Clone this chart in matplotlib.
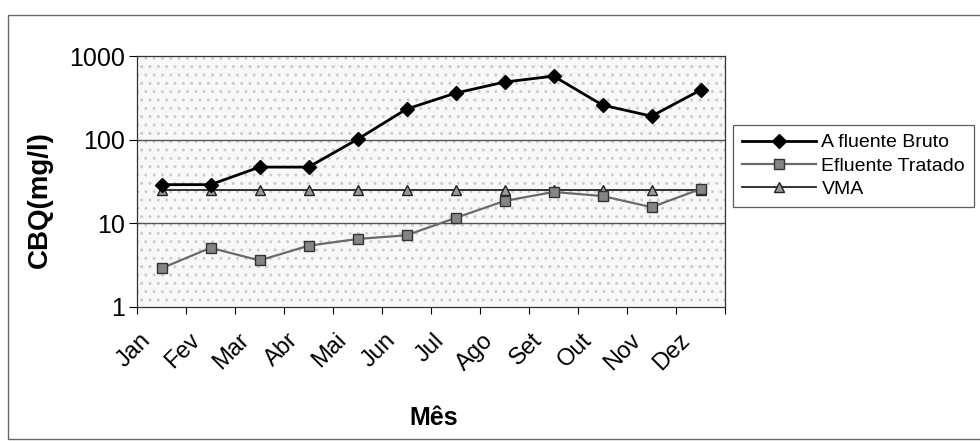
import numpy as np
import matplotlib
matplotlib.use("Agg")
import matplotlib.pyplot as plt
from matplotlib.patches import Rectangle

plt.rcParams["font.family"] = ["Liberation Sans", "DejaVu Sans"]

# dados
meses = ["Jan", "Fev", "Mar", "Abr", "Mai", "Jun", "Jul", "Ago", "Set", "Out", "Nov", "Dez"]
afluente = [29, 29, 47, 47, 101, 232, 360, 488, 575, 259, 191, 391]
efluente = [2.9, 5.1, 3.6, 5.4, 6.5, 7.2, 11.6, 18.5, 23.7, 21.2, 15.6, 25.7]
vma = [25, 25, 25, 25, 25, 25, 25, 25, 25, 25, 25, 25]

fig = plt.figure(figsize=(9.8, 4.41), dpi=100)
ax = fig.add_axes([137 / 980, 1 - 307 / 441, 588 / 980, 251 / 441])

# fundo pontilhado estilo Excel
ax.set_facecolor("#f8f8f8")
ax.patch.set_hatch("..")
ax.patch.set_edgecolor("#cdcdcd")
ax.patch.set_linewidth(0)

x = np.arange(len(meses))

ax.plot(x, afluente, color="black", lw=2, marker="D", ms=7.5,
        mfc="black", mec="black", label="A fluente Bruto", zorder=5)
ax.plot(x, efluente, color="#6a6a6a", lw=1.6, marker="s", ms=7.5,
        mfc="#858585", mec="#333333", label="Efluente Tratado", zorder=4)
ax.plot(x, vma, color="#222222", lw=1.3, marker="^", ms=7.5,
        mfc="#9a9a9a", mec="#222222", label="VMA", zorder=3)

ax.set_yscale("log")
ax.set_ylim(1, 1000)
ax.set_xlim(-0.5, len(meses) - 0.5)

ax.set_yticks([1, 10, 100, 1000])
ax.set_yticklabels(["1", "10", "100", "1000"], fontsize=18)
ax.yaxis.set_minor_locator(matplotlib.ticker.NullLocator())
ax.tick_params(axis="y", length=6, width=0.8, pad=3)

for yv in [10, 100]:
    ax.axhline(yv, color="#555555", lw=1, zorder=1)

# ticks nas fronteiras das categorias, rótulos deslocados para a esquerda
ax.set_xticks(np.arange(-0.5, len(meses), 1))
ax.set_xticklabels([])
ax.tick_params(axis="x", length=5, width=0.8)
ax.set_xticks(x - 0.45, minor=True)
ax.set_xticklabels(meses, minor=True, rotation=45, ha="right",
                   rotation_mode="anchor", fontsize=17)
ax.tick_params(axis="x", which="minor", length=0, pad=16)

for s in ax.spines.values():
    s.set_color("#333333")
    s.set_linewidth(0.9)

ax.set_ylabel("CBQ(mg/l)", fontsize=20, fontweight="bold")
ax.yaxis.set_label_coords(-0.143, 0.43)
ax.set_xlabel("Mês", fontsize=18, fontweight="bold")
ax.xaxis.set_label_coords(0.504, -0.394)

leg = fig.legend(loc="upper left", bbox_to_anchor=(733 / 980, 1 - 125 / 441),
                 borderaxespad=0, frameon=True, fancybox=False,
                 edgecolor="#333333", fontsize=14, handlelength=3.8,
                 borderpad=0.45, labelspacing=0.3, handletextpad=0.3)
leg.get_frame().set_linewidth(0.9)

# moldura externa do gráfico
fig.patches.append(Rectangle((8 / 980, 2 / 441), 1.2, 424 / 441,
                             transform=fig.transFigure, fill=False,
                             edgecolor="#666666", lw=1))

fig.savefig("out.png", dpi=100)
